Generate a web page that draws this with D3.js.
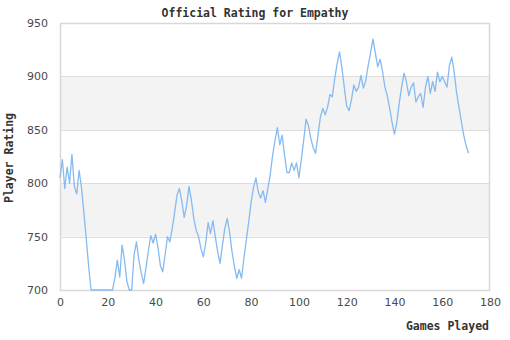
<!DOCTYPE html>
<html>
<head>
<meta charset="utf-8">
<script src="https://cdn.jsdelivr.net/npm/d3@7"></script>
<style>
  html, body { margin: 0; padding: 0; background: #fff; }
  svg { display: block; }
</style>
</head>
<body>
<script>
// Rating after each game played (game index = array position)
const ratings = [
  805, 822, 795, 815, 800, 827, 797, 790, 812, 796,
  772, 748, 722, 700, 700, 700, 700, 700, 700, 700,
  700, 700, 700, 712, 728, 712, 742, 728, 708, 700,
  700, 733, 745, 728, 716, 706, 721, 737, 751, 744,
  752, 740, 723, 717, 733, 750, 745, 758, 773, 789,
  795, 783, 768, 779, 797, 784, 767, 756, 750, 739,
  731, 744, 763, 753, 765, 750, 736, 725, 742, 758,
  767, 754, 736, 722, 711, 719, 711, 730, 747, 764,
  782, 796, 805, 792, 786, 793, 782, 795, 808, 826,
  840, 852, 836, 845, 826, 810, 810, 819, 812, 819,
  805, 822, 840, 860, 854, 842, 833, 828, 845, 862,
  870, 864, 871, 883, 881, 898, 912, 923, 908, 890,
  872, 868, 878, 892, 886, 890, 901, 889, 896, 910,
  922, 935, 922, 909, 916, 905, 890, 882, 870, 857,
  846, 857, 875, 890, 903, 895, 882, 890, 894, 876,
  881, 884, 871, 890, 900, 884, 895, 886, 904, 895,
  900, 895, 890, 910, 918, 904, 885, 871, 858, 845,
  835, 828
];
const xTicks = [0, 20, 40, 60, 80, 100, 120, 140, 160, 180];
const yTicks = [700, 750, 800, 850, 900, 950];
const shadedBands = [[750, 800], [850, 900]];
const titleText = "Official Rating for Empathy";
const xLabel = "Games Played";
const yLabel = "Player Rating";

const W = 510, H = 340;
const plot = { left: 60, right: 490, top: 23, bottom: 290 };

const svg = d3.select("body").append("svg")
  .attr("width", W).attr("height", H);

const x = d3.scaleLinear().domain([0, 180]).range([plot.left, plot.right]);
const y = d3.scaleLinear().domain([700, 950]).range([plot.bottom, plot.top]);

// alternating shaded bands
svg.append("g").selectAll("rect").data(shadedBands).join("rect")
  .attr("x", plot.left)
  .attr("width", plot.right - plot.left)
  .attr("y", d => y(d[1]))
  .attr("height", d => y(d[0]) - y(d[1]))
  .attr("fill", "#f3f3f3");

// horizontal grid lines
svg.append("g").selectAll("line").data(yTicks).join("line")
  .attr("x1", plot.left).attr("x2", plot.right)
  .attr("y1", d => Math.round(y(d)) + 0.5)
  .attr("y2", d => Math.round(y(d)) + 0.5)
  .attr("stroke", "#dcdcdc").attr("stroke-width", 1);

// plot frame
svg.append("rect")
  .attr("x", plot.left + 0.5).attr("y", plot.top + 0.5)
  .attr("width", plot.right - plot.left - 1)
  .attr("height", plot.bottom - plot.top)
  .attr("fill", "none").attr("stroke", "#d8d8d8").attr("stroke-width", 1.5);

// axes (labels only)
const yAxis = svg.append("g")
  .attr("transform", `translate(${plot.left},0)`)
  .call(d3.axisLeft(y).tickValues(yTicks).tickSize(0).tickPadding(12));
const xAxis = svg.append("g")
  .attr("transform", `translate(0,${plot.bottom})`)
  .call(d3.axisBottom(x).tickValues(xTicks).tickSize(0).tickPadding(8));
[yAxis, xAxis].forEach(g => {
  g.select(".domain").remove();
  g.selectAll("text")
    .attr("fill", "#4a4a4a")
    .style("font-family", "'DejaVu Sans', sans-serif")
    .style("font-size", "11px");
});

// rating line
const line = d3.line()
  .x((d, i) => x(i))
  .y(d => y(d));
svg.append("path")
  .datum(ratings)
  .attr("d", line)
  .attr("fill", "none")
  .attr("stroke", "#86baf0")
  .attr("stroke-width", 1.3)
  .attr("stroke-linejoin", "round");

// titles
const mono = "'DejaVu Sans Mono', 'Liberation Mono', monospace";
svg.append("text")
  .attr("x", 255).attr("y", 17)
  .attr("text-anchor", "middle")
  .attr("fill", "#333")
  .style("font-family", mono).style("font-weight", "bold").style("font-size", "11.5px")
  .text(titleText);
svg.append("text")
  .attr("x", 489).attr("y", 330)
  .attr("text-anchor", "end")
  .attr("fill", "#333")
  .style("font-family", mono).style("font-weight", "bold").style("font-size", "11.5px")
  .text(xLabel);
svg.append("text")
  .attr("transform", `translate(13,158) rotate(-90)`)
  .attr("text-anchor", "middle")
  .attr("fill", "#333")
  .style("font-family", mono).style("font-weight", "bold").style("font-size", "11.5px")
  .text(yLabel);
</script>
</body>
</html>
